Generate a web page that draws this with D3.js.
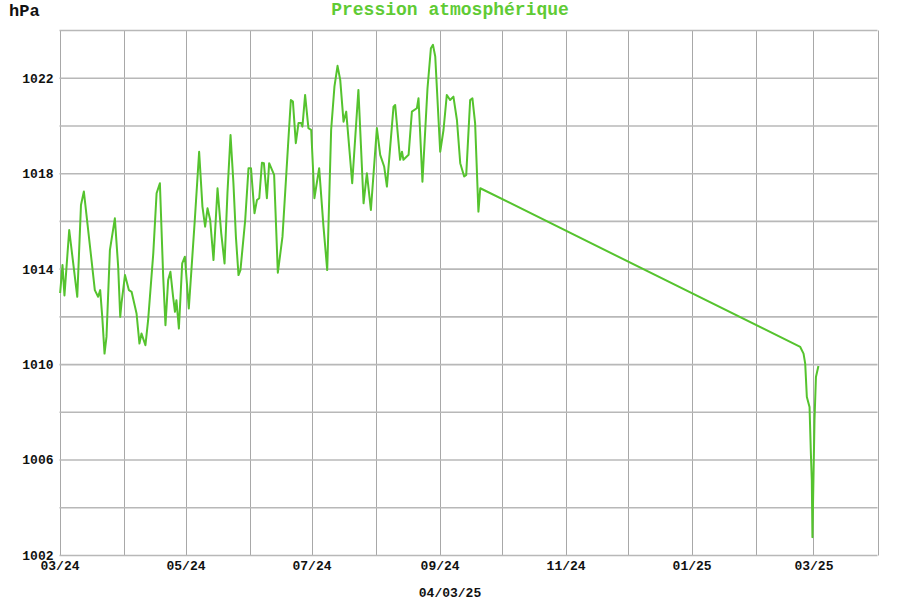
<!DOCTYPE html>
<html><head><meta charset="utf-8">
<script src="https://cdn.jsdelivr.net/npm/d3@7"></script>
<style>body{margin:0;background:#fff}svg{display:block}</style>
</head><body>
<svg id="c" width="900" height="600"></svg>
<script>
// Data: days since the first reading (2024-03-01) and pressure in hPa
const startDate = "2024-03-01";
const dayOffsets = [0.3,1.45,2.4,4.7,8.6,10.4,11.8,15.5,17.1,18.7,19.7,20.7,21.8,22.75,24.4,26.8,28.4,29.4,30.0,31.7,33.6,34.9,37.3,38.7,39.7,41.6,42.9,45.4,47.0,48.6,50.2,51.3,52.6,53.7,55.0,55.9,56.6,57.8,59.4,60.7,62.6,65.5,67.6,69.2,70.5,71.65,72.95,74.55,76.5,78.3,79.9,81.3,82.8,84.2,85.4,86.65,87.6,89.9,91.5,92.7,94.4,95.6,96.7,98.0,98.95,100.4,101.5,103.9,105.7,107.95,110.6,112.0,113.0,114.4,115.7,117.0,117.6,118.9,120.5,121.85,123.4,125.7,127.8,129.6,131.5,133.1,134.6,135.9,137.5,138.8,141.7,144.7,147.2,148.8,150.75,153.65,155.25,157.2,158.5,161.7,162.5,164.9,165.8,166.5,169.0,170.6,173.0,173.8,175.7,178.15,179.8,180.8,181.9,184.3,185.9,187.5,189.1,190.7,192.4,194.0,195.9,196.9,198.8,199.9,201.2,202.8,203.7,358.6,360.2,361.0,361.8,363.1,363.75,364.2,364.5,365.5,366.2,367.4];
const pressure = [1013.0,1014.17,1012.9,1015.64,1012.84,1016.69,1017.25,1014.38,1013.12,1012.84,1013.12,1012.0,1010.46,1011.16,1014.8,1016.13,1014.1,1012.0,1012.56,1013.75,1013.12,1013.05,1012.14,1010.88,1011.3,1010.81,1011.86,1014.66,1017.18,1017.6,1013.68,1011.65,1013.54,1013.89,1012.84,1012.21,1012.7,1011.51,1014.24,1014.52,1012.35,1016.06,1018.92,1016.62,1015.78,1016.55,1016.06,1014.38,1017.39,1015.5,1014.24,1017.18,1019.62,1017.6,1015.36,1013.75,1013.96,1016.06,1018.23,1018.23,1016.34,1016.9,1016.97,1018.46,1018.44,1016.97,1018.44,1017.95,1013.85,1015.36,1019.13,1021.09,1021.02,1019.28,1020.12,1020.12,1019.97,1021.3,1019.91,1019.83,1016.97,1018.23,1015.78,1013.96,1019.83,1021.65,1022.52,1021.93,1020.18,1020.6,1017.6,1021.51,1016.76,1018.02,1016.48,1019.91,1018.79,1018.29,1017.46,1020.81,1020.88,1018.58,1018.92,1018.58,1018.79,1020.6,1020.74,1021.16,1017.66,1021.58,1023.26,1023.4,1022.91,1018.92,1019.83,1021.3,1021.09,1021.23,1020.25,1018.44,1017.88,1017.95,1021.09,1021.16,1020.12,1016.41,1017.39,1010.74,1010.46,1010.04,1008.64,1008.22,1006.27,1005.15,1002.77,1007.67,1009.48,1009.94];
const yTickLabels = [1002, 1006, 1010, 1014, 1018, 1022];
const yGridValues = [1004, 1006, 1008, 1010, 1012, 1014, 1016, 1018, 1020, 1022];
const xTickLabels = ["03/24", "05/24", "07/24", "09/24", "11/24", "01/25", "03/25"];
const titleText = "Pression atmosphérique";
const unitText = "hPa";
const dateText = "04/03/25";

const parse = d3.timeParse("%Y-%m-%d");
const t0 = parse(startDate);
const xDomain = [parse("2024-03-01"), parse("2025-04-01")];
const data = dayOffsets.map((d, i) => ({ date: d3.timeMinute.offset(t0, Math.round(d * 1440)), value: pressure[i] }));

const svg = d3.select("#c");
const x = d3.scaleTime().domain(xDomain).range([59.5, 877.5]);
const y = d3.scaleLinear().domain([1002, 1024]).range([555.5, 30.5]);
const font = "'Liberation Mono','Courier New',monospace";

// Vertical grid (monthly)
const months = d3.timeMonth.range(xDomain[0], d3.timeDay.offset(xDomain[1], 1));
svg.append("g").selectAll("line").data(months).join("line")
  .attr("x1", d => Math.round(x(d)) + 0.5).attr("x2", d => Math.round(x(d)) + 0.5)
  .attr("y1", y(1024)).attr("y2", y(1002))
  .attr("stroke", "#a8a8a8").attr("stroke-width", 1);

// Horizontal grid
svg.append("g").selectAll("line").data(yGridValues.concat([1002, 1024])).join("line")
  .attr("x1", x(xDomain[0])).attr("x2", x(xDomain[1]))
  .attr("y1", d => y(d)).attr("y2", d => y(d))
  .attr("stroke", "#b8b8b8").attr("stroke-width", 1.6);

// Y labels via axis
const yAxis = d3.axisLeft(y).tickValues(yTickLabels).tickSize(0).tickPadding(6).tickFormat(d3.format("d"));
const gy = svg.append("g").attr("transform", `translate(${x(xDomain[0])},0)`).call(yAxis);
gy.select(".domain").remove();
gy.selectAll("text").attr("font-family", font).attr("font-weight", "bold").attr("font-size", 13).attr("fill", "#111").attr("dy", "0.3em");

// X labels via axis
const fmt = d3.timeFormat("%m/%y");
const xLabelDates = months.filter(m => xTickLabels.includes(fmt(m)));
const xAxis = d3.axisBottom(x).tickValues(xLabelDates).tickSize(0).tickPadding(6).tickFormat(fmt);
const gx = svg.append("g").attr("transform", `translate(0,${y(1002)})`).call(xAxis);
gx.select(".domain").remove();
gx.selectAll("text").attr("font-family", font).attr("font-weight", "bold").attr("font-size", 13).attr("fill", "#111").attr("dy", "0.62em");

// Line
const line = d3.line().x(d => x(d.date)).y(d => y(d.value));
svg.append("path").datum(data).attr("d", line)
  .attr("fill", "none").attr("stroke", "#55c32e").attr("stroke-width", 2).attr("stroke-linejoin", "round");

// Texts
svg.append("text").attr("x", 450).attr("y", 15).attr("text-anchor", "middle")
  .attr("font-family", font).attr("font-weight", "bold").attr("font-size", 18).attr("fill", "#5fcb35").text(titleText);
svg.append("text").attr("x", 9).attr("y", 16).attr("font-family", font).attr("font-weight", "bold")
  .attr("font-size", 17).attr("fill", "#111").text(unitText);
svg.append("text").attr("x", 450).attr("y", 597).attr("text-anchor", "middle")
  .attr("font-family", font).attr("font-weight", "bold").attr("font-size", 13).attr("fill", "#111").text(dateText);
</script>
</body></html>
